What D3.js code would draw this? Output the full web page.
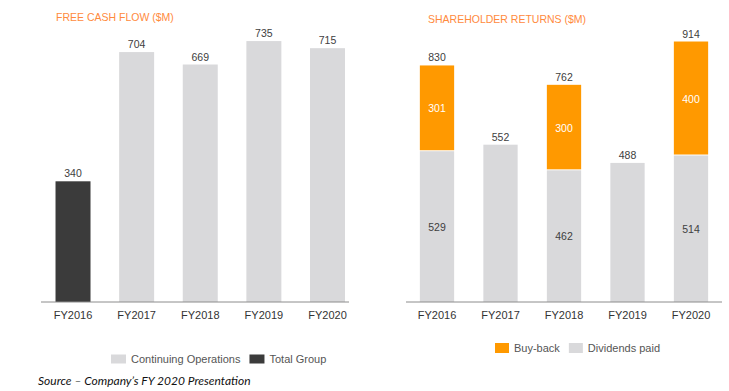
<!DOCTYPE html>
<html>
<head>
<meta charset="utf-8">
<script src="https://cdn.jsdelivr.net/npm/d3@7"></script>
<style>
  html, body { margin: 0; padding: 0; background: #fff; }
  svg { display: block; font-family: "Liberation Sans", Arial, sans-serif; }
</style>
</head>
<body>
<div id="chart"></div>
<script>
// Free cash flow + shareholder returns, two bar panels side by side
var YEARS = ["FY2016", "FY2017", "FY2018", "FY2019", "FY2020"];

// left panel
var FCF = [340, 704, 669, 735, 715];
var FCF_KIND = ["total", "cont", "cont", "cont", "cont"];

// right panel (stacked)
var DIVIDENDS = [529, 552, 462, 488, 514];
var BUYBACK = [301, 0, 300, 0, 400];
var RETURNS_TOTAL = [830, 552, 762, 488, 914];

var GREY = "#d9d9db", DARK = "#3b3b3b", ORANGE = "#ff9900", TITLE = "#ff8a3d", INK = "#404040";

var svg = d3.select("#chart").append("svg").attr("width", 729).attr("height", 391);

function axisLine(x1, x2, y) {
  svg.append("line").attr("x1", x1).attr("x2", x2).attr("y1", y).attr("y2", y)
    .attr("stroke", "#8c8c8c").attr("stroke-width", 1);
}

function ticks(x, y) {
  var g = svg.append("g").attr("transform", "translate(0," + y + ")")
    .call(d3.axisBottom(x).tickSize(0).tickPadding(9));
  g.select(".domain").remove();
  g.selectAll("text").attr("font-size", 11).attr("fill", "#333")
    .attr("font-family", "Liberation Sans, Arial, sans-serif");
}

function legend(items, x0, y, w, h) {
  var cx = x0;
  items.forEach(function (it) {
    svg.append("rect").attr("x", cx).attr("y", y - h / 2).attr("width", w).attr("height", h).attr("fill", it.color);
    var t = svg.append("text").attr("x", cx + w + 5).attr("y", y + 4)
      .attr("font-size", 11).attr("fill", "#555").text(it.label);
    cx += w + 5 + t.node().getComputedTextLength() + 9;
  });
}

// ---- left: free cash flow ----
var base = 302;
var x1 = d3.scaleBand().domain(YEARS).range([41.2, 359.3]).paddingInner(0.45).paddingOuter(0.225);
var y1 = d3.scaleLinear().domain([0, 800]).range([base, base - 284]);

svg.append("text").attr("x", 56).attr("y", 21).attr("font-size", 10.5).attr("fill", TITLE)
  .text("FREE CASH FLOW ($M)");

svg.selectAll("rect.fcf").data(FCF).enter().append("rect").attr("class", "fcf")
  .attr("x", function (d, i) { return x1(YEARS[i]); })
  .attr("width", x1.bandwidth())
  .attr("y", function (d) { return y1(d); })
  .attr("height", function (d) { return base - y1(d); })
  .attr("fill", function (d, i) { return FCF_KIND[i] === "total" ? DARK : GREY; });

svg.selectAll("text.fcf").data(FCF).enter().append("text").attr("class", "fcf")
  .attr("x", function (d, i) { return x1(YEARS[i]) + x1.bandwidth() / 2; })
  .attr("y", function (d) { return y1(d) - 4; })
  .attr("text-anchor", "middle").attr("font-size", 10.5).attr("fill", INK)
  .text(function (d) { return d; });

axisLine(41, 349, base);
ticks(x1, base);
legend([{ label: "Continuing Operations", color: GREY }, { label: "Total Group", color: DARK }], 111, 359, 15, 9);

// ---- right: shareholder returns ----
var x2 = d3.scaleBand().domain(YEARS).range([405.25, 722.75]).paddingInner(0.46).paddingOuter(0.23);
var y2 = d3.scaleLinear().domain([0, 1000]).range([base, base - 285]);

svg.append("text").attr("x", 428).attr("y", 23).attr("font-size", 10.5).attr("fill", TITLE)
  .text("SHAREHOLDER RETURNS ($M)");

var stacks = YEARS.map(function (yr, i) {
  return { year: yr, div: DIVIDENDS[i], buy: BUYBACK[i], total: RETURNS_TOTAL[i] };
});

svg.selectAll("rect.div").data(stacks).enter().append("rect").attr("class", "div")
  .attr("x", function (d) { return x2(d.year); })
  .attr("width", x2.bandwidth())
  .attr("y", function (d) { return y2(d.div); })
  .attr("height", function (d) { return base - y2(d.div); })
  .attr("fill", GREY);

svg.selectAll("rect.buy").data(stacks.filter(function (d) { return d.buy > 0; })).enter().append("rect").attr("class", "buy")
  .attr("x", function (d) { return x2(d.year); })
  .attr("width", x2.bandwidth())
  .attr("y", function (d) { return y2(d.div + d.buy); })
  .attr("height", function (d) { return y2(d.div) - y2(d.div + d.buy) - 1; })
  .attr("fill", ORANGE);

// totals on top
svg.selectAll("text.tot").data(stacks).enter().append("text").attr("class", "tot")
  .attr("x", function (d) { return x2(d.year) + x2.bandwidth() / 2; })
  .attr("y", function (d) { return y2(d.total) - 4; })
  .attr("text-anchor", "middle").attr("font-size", 10.5).attr("fill", INK)
  .text(function (d) { return d.total; });

// segment labels only on the stacked years
var stacked = stacks.filter(function (d) { return d.buy > 0; });
svg.selectAll("text.buy").data(stacked).enter().append("text").attr("class", "buy")
  .attr("x", function (d) { return x2(d.year) + x2.bandwidth() / 2; })
  .attr("y", function (d) { return (y2(d.div) + y2(d.div + d.buy)) / 2 + 4; })
  .attr("text-anchor", "middle").attr("font-size", 10.5).attr("fill", "#fff")
  .text(function (d) { return d.buy; });
svg.selectAll("text.div").data(stacked).enter().append("text").attr("class", "div")
  .attr("x", function (d) { return x2(d.year) + x2.bandwidth() / 2; })
  .attr("y", function (d) { return (base + y2(d.div)) / 2 + 4; })
  .attr("text-anchor", "middle").attr("font-size", 10.5).attr("fill", INK)
  .text(function (d) { return d.div; });

axisLine(406, 722, base);
ticks(x2, base);
legend([{ label: "Buy-back", color: ORANGE }, { label: "Dividends paid", color: GREY }], 495, 348, 14, 10);

// source note
svg.append("text").attr("x", 38).attr("y", 385).attr("font-family", "Lato, 'Open Sans', sans-serif")
  .attr("font-style", "italic").attr("font-size", 12).attr("fill", "#111")
  .text("Source \u2013 Company\u2019s FY 2020 Presentation");
</script>
</body>
</html>
